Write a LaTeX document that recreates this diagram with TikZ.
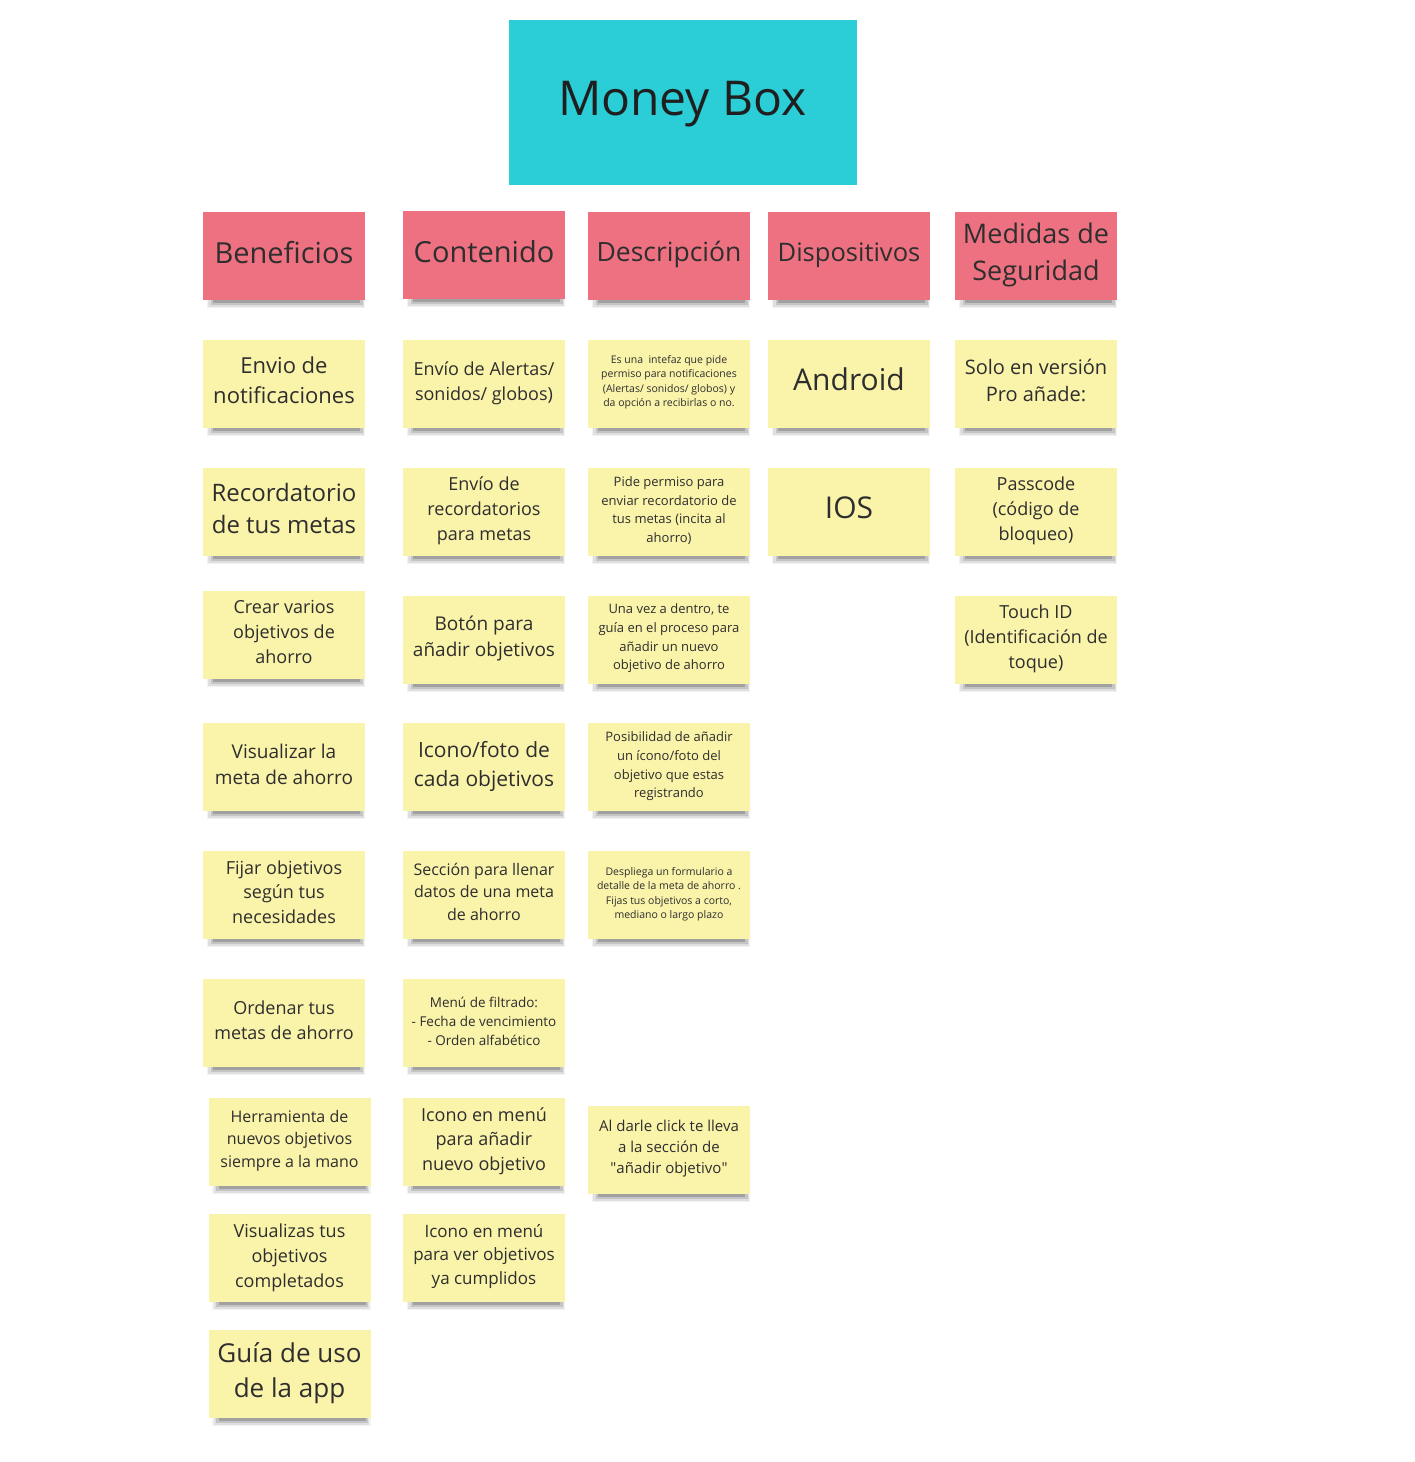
\documentclass[tikz,border=0pt]{standalone}
\usepackage{fontspec}
\setmainfont{Open Sans}
\newfontfamily\plainq{Open Sans}
\usetikzlibrary{shadows}
\definecolor{boxcyan}{HTML}{2BCDD6}
\definecolor{notepink}{HTML}{EE7181}
\definecolor{noteyellow}{HTML}{FAF3AA}
\definecolor{inktext}{HTML}{2E2E2E}
\newcommand\fz[2]{\fontsize{#1}{#2}\selectfont}
\newcommand\up[2]{\raisebox{#1pt}[\height][\depth]{\begin{tabular}{@{}c@{}}#2\end{tabular}}}
\newcommand\sq{{\plainq\symbol{34}}}
\tikzset{
  noteshadow/.style={
    general shadow={fill=black, opacity=0.05, shadow yshift=-9.5pt, shadow xshift=2pt, shadow scale=0.98},
    general shadow={fill=black, opacity=0.08, shadow yshift=-9pt, shadow xshift=2pt, shadow scale=0.96},
    general shadow={fill=black, opacity=0.12, shadow yshift=-8.6pt, shadow xshift=3pt, shadow scale=0.94},
    general shadow={fill=black, opacity=0.18, shadow yshift=-8pt, shadow xshift=3pt, shadow scale=0.91}},
  note/.style={noteshadow, fill=noteyellow, minimum width=162pt, minimum height=88pt,
    inner sep=0pt, align=center, text=inktext},
  header/.style={note, fill=notepink},
  fs/.style 2 args={font=\fz{#1}{#2}},
  titlebox/.style={fill=boxcyan, draw=white, minimum width=349pt, minimum height=166pt,
    inner sep=0pt, text=black!88}
}
\begin{document}
\begin{tikzpicture}[x=1pt,y=-1pt]
\useasboundingbox (0,0) rectangle (1414,1462);
\node[titlebox, fs={48}{56}] (title) at (682.5,102) {\up{-2}{Money Box}};
% headers
\node[header, fs={29}{36}] (h1) at (284,256) {\up{0}{Beneficios}};
\node[header, fs={29}{36}] (h2) at (484,255) {\up{0}{Contenido}};
\node[header, fs={26.5}{34}] (h3) at (669,256) {\up{1}{Descripción}};
\node[header, fs={25.5}{34}] (h4) at (849,256) {\up{1}{Dispositivos}};
\node[header, fs={27}{37}] (h5) at (1036,256) {\up{1}{Medidas de\\Seguridad}};
% column 1
\node[note, fs={22}{30}] (b1) at (284,384) {\up{2}{Envio de\\notificaciones}};
\node[note, fs={24}{32}] (b2) at (284,512) {\up{1}{Recordatorio\\de tus metas}};
\node[note, fs={18}{25}] (b3) at (284,635) {\up{2}{Crear varios\\objetivos de\\ahorro}};
\node[note, fs={19}{26}] (b4) at (284,767) {\up{1}{Visualizar la\\meta de ahorro}};
\node[note, fs={18}{24.5}] (b5) at (284,895) {\up{1}{Fijar objetivos\\según tus\\necesidades}};
\node[note, fs={18}{25}] (b6) at (284,1023) {\up{1}{Ordenar tus\\metas de ahorro}};
\node[note, fs={16}{22.5}] (b7) at (289.5,1142) {\up{2}{Herramienta de\\nuevos objetivos\\siempre a la mano}};
\node[note, fs={18}{25}] (b8) at (289.5,1258) {\up{1}{Visualizas tus\\objetivos\\completados}};
\node[note, fs={26}{35}] (b9) at (289.5,1374) {\up{1}{Guía de uso\\de la app}};
% column 2
\node[note, fs={18}{25}] (c1) at (484,384) {\up{1}{Envío de Alertas/\\sonidos/ globos)}};
\node[note, fs={18}{25}] (c2) at (484,512) {\up{2}{Envío de\\recordatorios\\para metas}};
\node[note, fs={19}{26}] (c3) at (484,640) {\up{2}{Botón para\\añadir objetivos}};
\node[note, fs={21}{29}] (c4) at (484,767) {\up{1}{Icono/foto de\\cada objetivos}};
\node[note, fs={16}{22.5}] (c5) at (484,895) {\up{2}{Sección para llenar\\datos de una meta\\de ahorro}};
\node[note, fs={13.5}{19}] (c6) at (484,1023) {\up{0}{Menú de filtrado:\\- Fecha de vencimiento\\- Orden alfabético}};
\node[note, fs={18}{24.5}] (c7) at (484,1142) {\up{1}{Icono en menú\\para añadir\\nuevo objetivo}};
\node[note, fs={17}{23.5}] (c8) at (484,1258) {\up{2}{Icono en menú\\para ver objetivos\\ya cumplidos}};
% column 3
\node[note, fs={10.5}{14.3}] (d1) at (669,384) {\up{2}{Es una\ \ intefaz que pide\\permiso para notificaciones\\(Alertas/ sonidos/ globos) y\\da opción a recibirlas o no.}};
\node[note, fs={13}{18.5}] (d2) at (669,512) {\up{1}{Pide permiso para\\enviar recordatorio de\\tus metas (incita al\\ahorro)}};
\node[note, fs={13}{18.7}] (d3) at (669,640) {\up{2}{Una vez a dentro, te\\guía en el proceso para\\añadir un nuevo\\objetivo de ahorro}};
\node[note, fs={13}{18.7}] (d4) at (669,767) {\up{1}{Posibilidad de añadir\\un ícono/foto del\\objetivo que estas\\registrando}};
\node[note, fs={10.5}{14.3}] (d5) at (669,895) {\up{1}{Despliega un formulario a\\detalle de la meta de ahorro .\\Fijas tus objetivos a corto,\\mediano o largo plazo}};
\node[note, fs={15}{21}] (d6) at (669,1150) {\up{2}{Al darle click te lleva\\a la sección de\\\sq añadir objetivo\sq}};
% column 4
\node[note, fs={30}{38}] (e1) at (849,384) {\up{1}{Android}};
\node[note, fs={30}{38}] (e2) at (849,512) {\up{1}{IOS}};
% column 5
\node[note, fs={20}{27}] (f1) at (1036,384) {\up{1}{Solo en versión\\Pro añade:}};
\node[note, fs={18}{25}] (f2) at (1036,512) {\up{2}{Passcode\\(código de\\bloqueo)}};
\node[note, fs={18}{25}] (f3) at (1036,640) {\up{2}{Touch ID\\(Identificación de\\toque)}};
\end{tikzpicture}
\end{document}
